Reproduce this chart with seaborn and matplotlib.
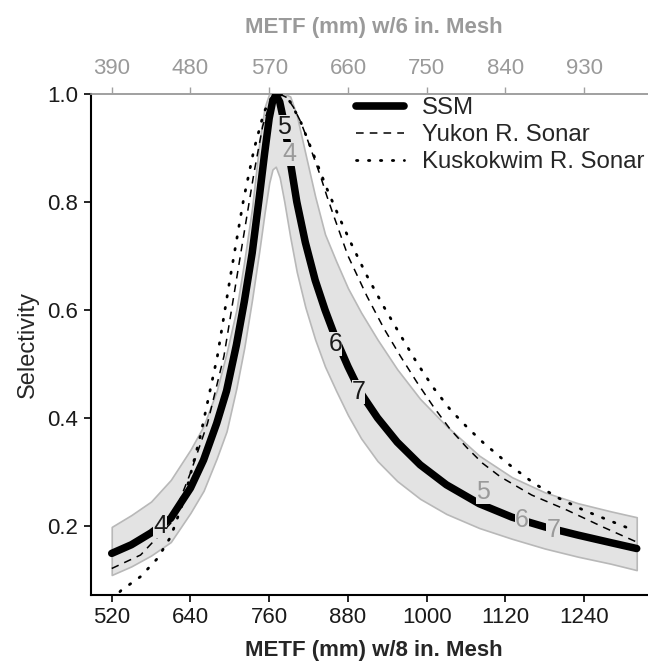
import matplotlib
matplotlib.use("Agg")
import matplotlib.pyplot as plt
import seaborn as sns
import numpy as np
import pandas as pd
from matplotlib.lines import Line2D

sns.set_theme(style="white")
plt.rcParams['font.family'] = ['Liberation Sans', 'DejaVu Sans']

# ---- data ----
ssm_x = [520, 550, 580, 610, 640, 660, 680, 695, 710, 722, 734, 745, 753, 760, 765, 770,
         776, 783, 792, 802, 815, 830, 845, 862, 880, 900, 925, 955, 990, 1030, 1080,
         1130, 1180, 1230, 1280, 1320]
ssm_y = [0.149, 0.165, 0.187, 0.214, 0.270, 0.322, 0.390, 0.450, 0.535, 0.615, 0.705,
         0.810, 0.890, 0.955, 0.985, 0.998, 0.985, 0.945, 0.875, 0.800, 0.725, 0.655,
         0.600, 0.545, 0.495, 0.445, 0.400, 0.355, 0.313, 0.276, 0.241, 0.216, 0.198,
         0.183, 0.169, 0.158]
ssm_upper = [0.198, 0.220, 0.245, 0.285, 0.341, 0.385, 0.450, 0.520, 0.600, 0.690, 0.790,
             0.910, 0.975, 1.0, 1.0, 1.0, 1.0, 1.0, 0.995, 0.960, 0.890, 0.810, 0.740,
             0.690, 0.640, 0.595, 0.545, 0.490, 0.435, 0.385, 0.330, 0.290, 0.262, 0.242,
             0.227, 0.216]
ssm_lower = [0.109, 0.125, 0.145, 0.170, 0.224, 0.265, 0.325, 0.375, 0.455, 0.530, 0.620,
             0.710, 0.780, 0.835, 0.860, 0.865, 0.845, 0.800, 0.735, 0.670, 0.605, 0.545,
             0.495, 0.450, 0.405, 0.362, 0.320, 0.283, 0.250, 0.222, 0.196, 0.176, 0.158,
             0.143, 0.130, 0.118]

yukon_x = [520, 564, 610, 640, 666, 691, 716, 737, 750, 762, 775, 787, 797, 808, 818,
           828, 838, 848, 858, 880, 909, 935, 960, 985, 1010, 1035, 1061, 1085, 1112,
           1160, 1214, 1270, 1320]
yukon_y = [0.121, 0.146, 0.205, 0.298, 0.39, 0.514, 0.70, 0.855, 0.94, 0.985, 1.0, 0.993,
           0.975, 0.948, 0.916, 0.882, 0.848, 0.810, 0.775, 0.700, 0.625, 0.565, 0.514,
           0.466, 0.421, 0.380, 0.345, 0.316, 0.291, 0.257, 0.229, 0.197, 0.170]

kusk_x = [520, 534, 564, 590, 610, 630, 655, 681, 701, 721, 737, 752, 762, 771, 782, 792,
          808, 828, 848, 866, 884, 908, 934, 960, 985, 1010, 1036, 1062, 1087, 1125, 1163,
          1200, 1239, 1280, 1315]
kusk_y = [0.062, 0.08, 0.106, 0.14, 0.18, 0.248, 0.366, 0.514, 0.663, 0.805, 0.898, 0.966,
          0.99, 1.0, 0.997, 0.985, 0.948, 0.886, 0.824, 0.773, 0.725, 0.665, 0.607, 0.553,
          0.502, 0.456, 0.415, 0.382, 0.353, 0.314, 0.279, 0.252, 0.229, 0.209, 0.192]

age_text = ["4", "5", "6", "7", "4", "5", "6", "7"]
age_x = [594, 783, 861, 896, 791, 1086, 1145, 1193]
age_y = [0.200, 0.938, 0.536, 0.447, 0.888, 0.263, 0.211, 0.192]
age_color = ["#1a1a1a"] * 4 + ["#9a9a9a"] * 4

bottom_ticks = [520, 640, 760, 880, 1000, 1120, 1240]
top_ticks = [390, 480, 570, 660, 750, 840, 930]
y_ticks = [0.2, 0.4, 0.6, 0.8, 1.0]
mesh_ratio = 6 / 8

fig = plt.figure(figsize=(6.48, 6.70), dpi=100)
ax = fig.add_axes([0.140, 0.112, 0.875, 0.748])

ribbon = pd.DataFrame({"x": ssm_x, "lo": ssm_lower, "hi": ssm_upper})
ax.fill_between(ribbon["x"], ribbon["lo"], ribbon["hi"], facecolor="#e3e3e3",
                edgecolor="#b8b8b8", linewidth=1.2, zorder=1)

dot_style = (0, (0.5, 3.8))
dash_style = (0, (5, 4))
sns.lineplot(x=kusk_x, y=kusk_y, ax=ax, color="black", linewidth=2.0,
             linestyle=dot_style, dash_capstyle="round", sort=False, zorder=3)
sns.lineplot(x=yukon_x, y=yukon_y, ax=ax, color="black", linewidth=1.1,
             linestyle=dash_style, sort=False, zorder=3)
sns.lineplot(x=ssm_x, y=ssm_y, ax=ax, color="black", linewidth=5.4,
             solid_capstyle="round", solid_joinstyle="round", sort=False, zorder=4)

for t, xx, yy, c in zip(age_text, age_x, age_y, age_color):
    ax.text(xx, yy, t, color=c, fontsize=18, ha="center", va="center", zorder=5,
            bbox=dict(facecolor="#e3e3e3", edgecolor="none", pad=0.0))

ax.set_xlim(488, 1352)
ax.set_ylim(0.072, 1.0)
ax.set_xticks(bottom_ticks)
ax.set_xticklabels([str(v) for v in bottom_ticks])
ax.set_yticks(y_ticks)
ax.set_yticklabels([f"{v:.1f}" for v in y_ticks])
ax.tick_params(axis="both", direction="out", length=5, width=1.2, colors="black",
               labelsize=16, labelcolor="#1a1a1a", bottom=True, left=True, pad=4)
ax.set_xlabel("METF (mm) w/8 in. Mesh", fontsize=16, fontweight="bold", labelpad=8)
ax.set_ylabel("Selectivity", fontsize=17, labelpad=6)

for s in ["left", "bottom"]:
    ax.spines[s].set_color("black")
    ax.spines[s].set_linewidth(1.5)
ax.spines["right"].set_visible(False)
ax.spines["top"].set_color("#a0a0a0")
ax.spines["top"].set_linewidth(1.2)

sec = ax.secondary_xaxis("top", functions=(lambda v: v * mesh_ratio,
                                           lambda v: v / mesh_ratio))
sec.set_xticks(top_ticks)
sec.set_xticklabels([str(v) for v in top_ticks])
sec.tick_params(axis="x", direction="out", length=5, width=1.0, colors="#a0a0a0",
                labelsize=16, labelcolor="#9a9a9a", pad=6)
sec.spines["top"].set_color("#a0a0a0")
sec.set_xlabel("METF (mm) w/6 in. Mesh", fontsize=16, fontweight="bold",
               color="#9a9a9a", labelpad=18)

handles = [Line2D([], [], color="black", lw=5.5),
           Line2D([], [], color="black", lw=1.1, linestyle=dash_style),
           Line2D([], [], color="black", lw=2.0, linestyle=dot_style,
                  dash_capstyle="round")]
ax.legend(handles, ["SSM", "Yukon R. Sonar", "Kuskokwim R. Sonar"],
          loc="upper left", bbox_to_anchor=(0.468, 0.993), frameon=False,
          fontsize=17.3, handlelength=2.0, handletextpad=0.75, labelspacing=0.2,
          borderaxespad=0.0, borderpad=0.0)

fig.savefig("out.png", dpi=100)
